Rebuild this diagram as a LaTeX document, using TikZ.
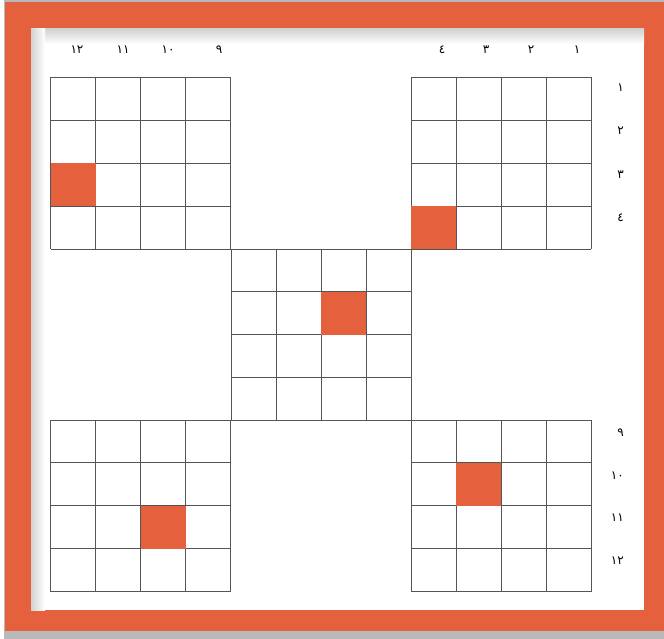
\documentclass[tikz,border=0pt]{standalone}
\usepackage{fontspec}
\newfontfamily\arabicfont[Script=Arabic]{DejaVu Sans}
\TeXXeTstate=1
\definecolor{frameorange}{HTML}{E5603D}
\definecolor{gridgray}{HTML}{555555}
\tikzset{
  gridline/.style={draw=gridgray, line width=0.9pt},
  hotcell/.style={fill=frameorange},
  numlabel/.style={font=\arabicfont\fontsize{12}{14}\selectfont, text=black, inner sep=0pt},
}
\newcommand{\cellw}{45}
\newcommand{\cellh}{42.9}
\newcommand{\gridblock}[2]{%
  \foreach \i in {0,...,4} {
    \draw[gridline] ({#1+\i*\cellw},#2) -- ({#1+\i*\cellw},{#2+4*\cellh});
    \draw[gridline] (#1,{#2+\i*\cellh}) -- ({#1+4*\cellw},{#2+\i*\cellh});
  }%
}
\newcommand{\hot}[4]{% block x, block y, col, row (1-based)
  \fill[hotcell] ({#1+(#3-1)*\cellw},{#2+(#4-1)*\cellh}) rectangle ({#1+#3*\cellw},{#2+#4*\cellh});
}
\begin{document}
\begin{tikzpicture}[x=1pt,y=-1pt]
\useasboundingbox (0,0) rectangle (664,639);
% outer shadow and frame
\fill[white] (0,0) rectangle (664,639);
\fill[gray!55] (4,0) rectangle (664,639);
\fill[frameorange] (5,2) rectangle (664,631);
% inner white panel
\fill[white] (31,29) rectangle (644,610);
\shade[top color=gray!35, bottom color=white] (31,29) rectangle (644,44);
\shade[left color=gray!35, right color=white] (31,29) rectangle (45,610);
% grids
\gridblock{50.5}{77.5}
\gridblock{411}{77.5}
\gridblock{231}{249}
\gridblock{50.5}{420}
\gridblock{411}{420}
% highlighted cells
\hot{50.5}{77.5}{1}{3}
\hot{411}{77.5}{1}{4}
\hot{231}{249}{3}{2}
\hot{411}{420}{2}{2}
\hot{50.5}{420}{3}{3}
% top labels
\node[numlabel] (t12) at (77,50) {١٢};
\node[numlabel] (t11) at (123,50) {١١};
\node[numlabel] (t10) at (168,50) {١٠};
\node[numlabel] (t9)  at (219,50) {٩};
\node[numlabel] (t4) at (442,50) {٤};
\node[numlabel] (t3) at (486,50) {٣};
\node[numlabel] (t2) at (531,50) {٢};
\node[numlabel] (t1) at (577,50) {١};
% right labels
\node[numlabel, anchor=east] (r1) at (624,88) {١};
\node[numlabel, anchor=east] (r2) at (624,131) {٢};
\node[numlabel, anchor=east] (r3) at (624,175) {٣};
\node[numlabel, anchor=east] (r4) at (624,218) {٤};
\node[numlabel, anchor=east] (r9) at (624,433) {٩};
\node[numlabel, anchor=east] (r10) at (624,476) {١٠};
\node[numlabel, anchor=east] (r11) at (624,518) {١١};
\node[numlabel, anchor=east] (r12) at (624,561) {١٢};
\end{tikzpicture}
\end{document}
